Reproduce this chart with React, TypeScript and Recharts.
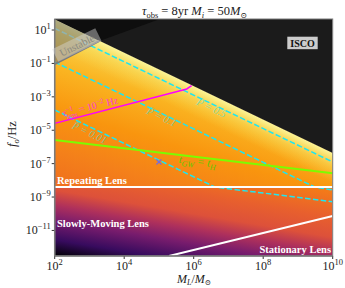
import React from "react";
import { ComposedChart, Area, Line, Scatter, XAxis, YAxis } from "recharts";

// axes are log10(M_L / Msun) and log10(f_o / Hz)
const xTicks = [2, 4, 6, 8, 10];
const yTicks = [1, -1, -3, -5, -7, -9, -11];
const xDomain = [2, 10];
const yDomain = [-12.53, 1.66];

// filled regions, [low, high] per x
const upperRegion = [
  { x: 2, r: [-8.4, 1.64] },
  { x: 10, r: [-8.4, -6.36] },
];
const lowerRegion = [
  { x: 2, r: [-12.53, -8.4] },
  { x: 10, r: [-12.53, -8.4] },
];
const iscoRegion = [
  { x: 2, r: [1.64, 1.66] },
  { x: 10, r: [-6.36, 1.66] },
];
const darkWedge = [
  { x: 2, r: [1.64, 1.66] },
  { x: 3.29, r: [0.35, 1.66] },
  { x: 5.03, r: [1.66, 1.66] },
];
const unstableWedge = [
  { x: 2, r: [-1.04, 1.64] },
  { x: 3.29, r: [0.35, 0.35] },
];

// contour / boundary lines
const pHalfHidden = [
  { x: 2, y: 1.1 },
  { x: 3.03, y: 0.07 },
];
const pHalf = [
  { x: 3.03, y: 0.07 },
  { x: 10, y: -6.9 },
];
const pTenth = [
  { x: 2, y: -0.92 },
  { x: 9.48, y: -8.4 },
  { x: 10, y: -8.58 },
];
const pHundredth = [
  { x: 2, y: -3.79 },
  { x: 6.61, y: -8.4 },
  { x: 10, y: -9.28 },
];
const tauLens = [
  { x: 2, y: -4.59 },
  { x: 5.8, y: -2.53 },
  { x: 5.94, y: -2.33 },
];
const tGW = [
  { x: 2, y: -5.59 },
  { x: 10, y: -7.57 },
];
const repeating = [
  { x: 2, y: -8.4 },
  { x: 10, y: -8.4 },
];
const stationary = [
  { x: 5.29, y: -12.53 },
  { x: 10, y: -10.14 },
];
const unstableEdge = [
  { x: 2, y: -1.04 },
  { x: 3.29, y: 0.35 },
];
const marker = [{ x: 5.0, y: -6.9 }];

const SERIF = "'Liberation Serif', 'DejaVu Serif', serif";
const CYAN = "#1ee6f0";

const sup = (v: number) => (v < 0 ? "\u2212" + Math.abs(v) : String(v));

const XTick = (props: any) => {
  const { x, y, payload } = props;
  return (
    <text x={x} y={y + 9.5} textAnchor="middle" fontFamily={SERIF} fontSize={12} fill="#222">
      <tspan>10</tspan>
      <tspan dy={-5} fontSize={8.5}>{sup(payload.value)}</tspan>
    </text>
  );
};

const YTick = (props: any) => {
  const { x, y, payload } = props;
  return (
    <text x={x} y={y + 4} textAnchor="end" fontFamily={SERIF} fontSize={12} fill="#222">
      <tspan>10</tspan>
      <tspan dy={-5} fontSize={8.5}>{sup(payload.value)}</tspan>
    </text>
  );
};

const Cross = (props: any) => {
  const { cx, cy } = props;
  const s = 2.5;
  return (
    <g stroke="#7a6ad8" strokeWidth={1.2}>
      <line x1={cx - s} y1={cy - s} x2={cx + s} y2={cy + s} />
      <line x1={cx - s} y1={cy + s} x2={cx + s} y2={cy - s} />
    </g>
  );
};

const region = (data: any[], fill: string, key: string, opacity = 1) => (
  <Area
    key={key}
    data={data}
    dataKey="r"
    type="linear"
    stroke="none"
    fill={fill}
    fillOpacity={opacity}
    dot={false}
    activeDot={false}
    isAnimationActive={false}
  />
);

const line = (data: any[], color: string, key: string, width: number, dash?: string) => (
  <Line
    key={key}
    data={data}
    dataKey="y"
    type="linear"
    stroke={color}
    strokeWidth={width}
    strokeDasharray={dash}
    dot={false}
    activeDot={false}
    isAnimationActive={false}
  />
);

export default function App() {
  return (
    <div style={{ position: "absolute", left: 0, top: 0, width: 345, height: 288, background: "#fff" }}>
      <ComposedChart width={345} height={288} margin={{ top: 19, right: 12.3, bottom: 0, left: 0 }}>
        <defs>
          <linearGradient id="gUp" gradientUnits="userSpaceOnUse" x1={55} y1={188} x2={101.5} y2={32.8}>
            <stop offset="0" stopColor="#ef6e1e" />
            <stop offset="0.22" stopColor="#f4801a" />
            <stop offset="0.46" stopColor="#f9950e" />
            <stop offset="0.72" stopColor="#fab522" />
            <stop offset="1" stopColor="#f8e060" />
          </linearGradient>
          <linearGradient id="gEdge" gradientUnits="userSpaceOnUse" x1={55} y1={188} x2={120.8} y2={50.9}>
            <stop offset="0.82" stopColor="#f9d84a" stopOpacity={0} />
            <stop offset="0.92" stopColor="#f8e060" stopOpacity={0.55} />
            <stop offset="1" stopColor="#fbf59a" stopOpacity={1} />
          </linearGradient>
          <linearGradient id="gLow" gradientUnits="userSpaceOnUse" x1={55} y1={256} x2={73.8} y2={145.6}>
            <stop offset="0" stopColor="#000004" />
            <stop offset="0.143" stopColor="#370b5e" />
            <stop offset="0.313" stopColor="#781c6d" />
            <stop offset="0.446" stopColor="#ae305c" />
            <stop offset="0.58" stopColor="#dd513a" />
            <stop offset="0.76" stopColor="#e8602d" />
            <stop offset="1" stopColor="#f47c17" />
          </linearGradient>
        </defs>
        <XAxis
          type="number"
          dataKey="x"
          domain={xDomain}
          ticks={xTicks}
          allowDataOverflow
          height={32}
          tick={<XTick />}
          tickSize={3}
          tickMargin={1}
          axisLine={{ stroke: "#808080", strokeWidth: 1.5 }}
          tickLine={{ stroke: "#333" }}
        />
        <YAxis
          type="number"
          domain={yDomain}
          ticks={yTicks}
          allowDataOverflow
          width={54.7}
          tick={<YTick />}
          tickSize={3}
          tickMargin={1}
          axisLine={{ stroke: "#808080", strokeWidth: 1.5 }}
          tickLine={{ stroke: "#333" }}
        />
        {region(upperRegion, "url(#gUp)", "up")}
        {region(upperRegion, "url(#gEdge)", "edge")}
        {region(lowerRegion, "url(#gLow)", "low")}
        {region(iscoRegion, "#1b1b1b", "isco")}
        {region(darkWedge, "#0e0e0e", "wedge")}
        {region(unstableWedge, "#6e6e6e", "unstable", 0.55)}
        {line(pHalfHidden, "#8fb4b0", "p5h", 1.5, "5.5 2.4")}
        {line(pHalf, CYAN, "p5", 1.5, "5.5 2.4")}
        {line(pTenth, CYAN, "p1", 1.5, "5.5 2.4")}
        {line(pHundredth, CYAN, "p01", 1.5, "5.5 2.4")}
        {line(tauLens, "#ff00ff", "tau", 1.5)}
        {line(tGW, "#7cfc00", "tgw", 2)}
        {line(repeating, "#ffffff", "rep", 2)}
        {line(stationary, "#ffffff", "stat", 2)}
        {line(unstableEdge, "#7a7a7a", "uedge", 2)}
        <Scatter data={marker} dataKey="y" shape={<Cross />} isAnimationActive={false} />
      </ComposedChart>
      <svg width={345} height={288} style={{ position: "absolute", left: 0, top: 0, pointerEvents: "none" }} fontFamily={SERIF}>
        <rect x={54.7} y={19} width={278} height={237} fill="none" stroke="#7a7a7a" strokeWidth={1} />
        <text x={194.5} y={15} textAnchor="middle" fontSize={12.5} fill="#222">
          <tspan fontStyle="italic">τ</tspan>
          <tspan fontSize={8.5} dy={3}>obs</tspan>
          <tspan dy={-3}> = 8yr </tspan>
          <tspan fontStyle="italic">M</tspan>
          <tspan fontSize={8.5} dy={3} fontStyle="italic">i</tspan>
          <tspan dy={-3}> = 50</tspan>
          <tspan fontStyle="italic">M</tspan>
          <tspan fontSize={8} dy={3}>⊙</tspan>
        </text>
        <text x={194} y={282.5} textAnchor="middle" fontSize={12} fill="#222">
          <tspan fontStyle="italic">M</tspan>
          <tspan fontSize={8} dy={2.5} fontStyle="italic">L</tspan>
          <tspan dy={-2.5}>/</tspan>
          <tspan fontStyle="italic">M</tspan>
          <tspan fontSize={7.5} dy={2.5}>⊙</tspan>
        </text>
        <text transform="translate(16,134) rotate(-90)" textAnchor="middle" fontSize={12.5} fill="#222">
          <tspan fontStyle="italic">f</tspan>
          <tspan fontSize={8.5} dy={3} fontStyle="italic">o</tspan>
          <tspan dy={-3}>/Hz</tspan>
        </text>
        <rect x={287.3} y={36.7} width={30.4} height={12.5} fill="#cccccc" />
        <text x={302.5} y={46.6} textAnchor="middle" fontSize={10} fontWeight="bold" fill="#111">ISCO</text>
        <g transform="translate(77,45.5) rotate(-26)">
          <rect x={-24} y={-7.5} width={48} height={14} fill="#d8d8d8" fillOpacity={0.45} />
          <text x={0} y={3.5} textAnchor="middle" fontSize={10.5} fill="#8a8a80">Unstable</text>
        </g>
        <text x={57} y={184} fontSize={10.5} fontWeight="bold" fill="#fff">Repeating Lens</text>
        <text x={57} y={227} fontSize={10.5} fontWeight="bold" fill="#fff">Slowly-Moving Lens</text>
        <text x={331} y={253} textAnchor="end" fontSize={10.5} fontWeight="bold" fill="#fff">Stationary Lens</text>
        <g fill={CYAN} fillOpacity={0.55} fontSize={10.5} fontStyle="italic">
          <text transform="translate(210,111) rotate(25.6)" textAnchor="middle">P̄ = 0.5</text>
          <text transform="translate(160,120) rotate(25.6)" textAnchor="middle">P̄ = 0.1</text>
          <text transform="translate(88,136) rotate(25.6)" textAnchor="middle">P̄ = 0.01</text>
        </g>
        <text transform="translate(91,110) rotate(-14)" textAnchor="middle" fontSize={10} fill="#ff2ee6" fillOpacity={0.9}>
          <tspan fontStyle="italic">τ</tspan>
          <tspan fontSize={7} dy={-4}>−1</tspan>
          <tspan fontSize={7} dx={-8} dy={7}>lens</tspan>
          <tspan dy={-3}> = 10</tspan>
          <tspan fontSize={7} dy={-4}>−2</tspan>
          <tspan dy={4}> Hz</tspan>
        </text>
        <text transform="translate(197,165) rotate(7)" textAnchor="middle" fontSize={11} fill="#62c800" fontStyle="italic">
          <tspan>t</tspan>
          <tspan fontSize={8} dy={3}>GW</tspan>
          <tspan dy={-3}> = t</tspan>
          <tspan fontSize={8} dy={3}>H</tspan>
        </text>
      </svg>
    </div>
  );
}
